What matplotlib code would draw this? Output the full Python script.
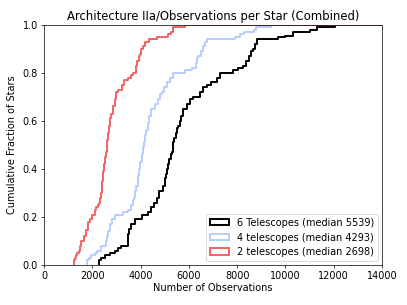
import matplotlib
matplotlib.use("Agg")
import matplotlib.pyplot as plt
from matplotlib.patches import Patch

# Cumulative step curves: observation counts (x) and cumulative fraction (y)
red_x = [1230, 1270, 1314, 1380, 1440, 1500, 1550, 1640, 1730, 1825, 1900, 1978, 2100, 2170,
         2230, 2270, 2310, 2350, 2390, 2420, 2450, 2490, 2525, 2560, 2590, 2615, 2650, 2680,
         2730, 2780, 2850, 2930, 3000, 3070, 3250, 3320, 3485, 3620, 3690, 3790, 3830, 3870,
         3920, 3970, 4030, 4080, 4180, 4340, 4660, 5145, 5280, 5340, 5850, 14500]
red_y = [0.02, 0.03, 0.04, 0.05, 0.06, 0.08, 0.10, 0.12, 0.146, 0.18, 0.19, 0.21, 0.23, 0.24,
         0.25, 0.26, 0.28, 0.30, 0.33, 0.35, 0.39, 0.42, 0.45, 0.47, 0.50, 0.52, 0.55, 0.58,
         0.61, 0.63, 0.66, 0.69, 0.72, 0.73, 0.75, 0.77, 0.78, 0.79, 0.80, 0.82, 0.83, 0.85,
         0.87, 0.88, 0.90, 0.91, 0.93, 0.94, 0.95, 0.96, 0.97, 0.99, 1.0, 1.0]

blue_x = [1785, 1870, 1965, 2100, 2200, 2380, 2560, 2610, 2655, 2725, 2820, 2930, 3280, 3485,
          3620, 3680, 3720, 3780, 3830, 3890, 3940, 3990, 4040, 4090, 4135, 4190, 4245, 4290,
          4340, 4450, 4590, 4730, 4800, 4870, 4980, 5075, 5215, 5325, 5840, 6150, 6290, 6340,
          6390, 6500, 6600, 6680, 6735, 7900, 8100, 8300, 8700, 8800, 9400, 14500]
blue_y = [0.02, 0.03, 0.04, 0.05, 0.06, 0.08, 0.10, 0.12, 0.14, 0.17, 0.19, 0.21, 0.22, 0.23,
          0.25, 0.27, 0.28, 0.31, 0.33, 0.37, 0.40, 0.43, 0.46, 0.49, 0.51, 0.54, 0.56, 0.59,
          0.62, 0.65, 0.67, 0.69, 0.71, 0.72, 0.74, 0.76, 0.78, 0.80, 0.81, 0.82, 0.84, 0.86,
          0.87, 0.89, 0.91, 0.93, 0.94, 0.95, 0.96, 0.97, 0.98, 0.99, 1.0, 1.0]

black_x = [2280, 2380, 2520, 2725, 2930, 3070, 3180, 3460, 3490, 3525, 3620, 3760, 4040, 4315,
           4450, 4550, 4660, 4770, 4940, 5005, 5050, 5100, 5140, 5185, 5240, 5285, 5350, 5400,
           5450, 5500, 5560, 5620, 5670, 5765, 5905, 6045, 6180, 6460, 6600, 6735, 6900, 7150,
           7290, 7840, 8050, 8260, 8370, 8505, 8580, 8645, 8730, 8810, 9710, 10000, 10300,
           11000, 11300, 12050, 14500]
black_y = [0.02, 0.03, 0.04, 0.05, 0.06, 0.07, 0.08, 0.10, 0.13, 0.15, 0.17, 0.19, 0.21, 0.22,
           0.24, 0.26, 0.28, 0.31, 0.33, 0.36, 0.38, 0.40, 0.42, 0.44, 0.46, 0.47, 0.51, 0.53,
           0.55, 0.57, 0.58, 0.60, 0.62, 0.65, 0.67, 0.69, 0.70, 0.72, 0.74, 0.75, 0.76, 0.78,
           0.80, 0.81, 0.82, 0.83, 0.85, 0.87, 0.89, 0.90, 0.92, 0.94, 0.95, 0.955, 0.97,
           0.98, 0.99, 1.0, 1.0]

labels = ["6 Telescopes (median 5539)", "4 telescopes (median 4293)", "2 telescopes (median 2698)"]
colors = ["black", "#b8cdff", "#f26464"]

plt.rcParams["font.size"] = 11
fig = plt.figure(figsize=(6.4, 4.8), dpi=407 / 6.4)
ax = fig.add_axes([44 / 407, 40 / 305, 338 / 407, 240 / 305])

for xs, ys, c in [(black_x, black_y, colors[0]), (blue_x, blue_y, colors[1]), (red_x, red_y, colors[2])]:
    ax.step([xs[0]] + xs, [0] + ys, where="post", color=c, lw=2.2)

ax.set_xlim(0, 14000)
ax.set_ylim(0, 1)
ax.set_xticks(range(0, 14001, 2000))
ax.set_yticks([0, 0.2, 0.4, 0.6, 0.8, 1.0])
ax.set_yticklabels(["0.0", "0.2", "0.4", "0.6", "0.8", "1.0"])
ax.set_xlabel("Number of Observations", labelpad=2)
ax.set_ylabel("Cumulative Fraction of Stars", labelpad=6)
ax.set_title("Architecture IIa/Observations per Star (Combined)", fontsize=13.2)

handles = [Patch(facecolor="none", edgecolor=c, lw=2.2) for c in colors]
ax.legend(handles, labels, loc="lower right", borderaxespad=0.4)

fig.savefig("out.png", dpi=407 / 6.4)
